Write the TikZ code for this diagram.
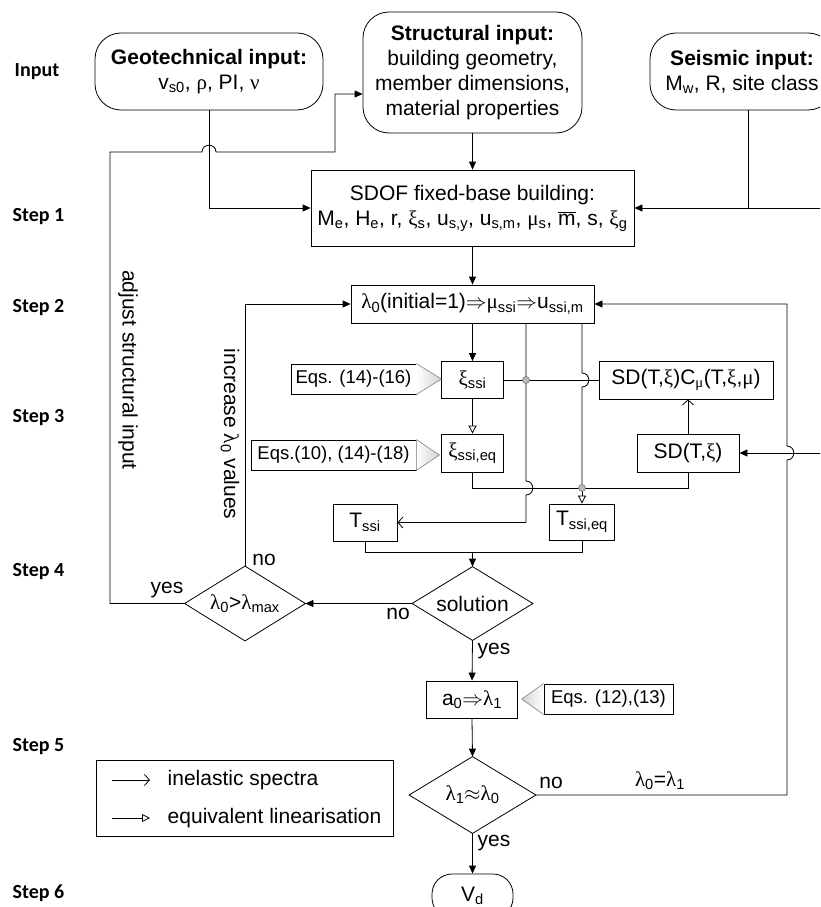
\documentclass[tikz,border=0pt]{standalone}
\usepackage{fontspec}
\setmainfont{Liberation Sans}
\newfontfamily\grk{Liberation Serif}
\newfontfamily\stepfont{Carlito}
\usetikzlibrary{arrows.meta,calc}
\newcommand\DrawDia[1]{\draw (#1.north) -- (#1.east) -- (#1.south) -- (#1.west) -- cycle;}
\begin{document}
\begin{tikzpicture}[x=1pt,y=-1pt,line width=0.8pt,
  every node/.style={font=\fontsize{21}{25}\selectfont},
  box/.style={draw, inner sep=0pt, align=center},
  rbox/.style={box, rounded corners=26pt},
  dia/.style={inner sep=0pt, align=center},
  eqbox/.style={box, font=\fontsize{18.5}{22}\selectfont, minimum height=30pt},
  steplab/.style={anchor=west, font=\stepfont\bfseries\fontsize{20}{24}\selectfont},
  lab/.style={inner sep=0pt},
  farrow/.style={-{Triangle[length=8pt,width=7pt]}},
  iarrow/.style={-{Straight Barb[length=5pt,width=11pt,line width=0.8pt]}},
  earrow/.style={-{Triangle[open,length=8pt,width=8pt,fill=white]}},
  tri/.style={draw=gray, line width=0.6pt},
  dotc/.style={fill=gray!55, draw=gray!80!black, line width=0.5pt}
]
\useasboundingbox (0,0) rectangle (820,907);
\clip (0,0) rectangle (820,907);

% step labels
\node[steplab] (sIn) at (11,72) {Input};
\node[steplab] (s1) at (9,217) {Step 1};
\node[steplab] (s2) at (9,308) {Step 2};
\node[steplab] (s3) at (9,418) {Step 3};
\node[steplab] (s4) at (9,572) {Step 4};
\node[steplab] (s5) at (9,747) {Step 5};
\node[steplab] (s6) at (9,893) {Step 6};

% input boxes
\node[rbox, minimum width=228pt, minimum height=77pt] (geo) at (209,71.5)
  {\textbf{Geotechnical input:}\\v\textsubscript{s0}, {\grk ρ}, PI, {\grk ν}};
\node[rbox, minimum width=219pt, minimum height=121pt] (str) at (472.5,72.5)
  {\textbf{Structural input:}\\building geometry,\\member dimensions,\\material properties};
\node[rbox, minimum width=184pt, minimum height=77pt] (seis) at (742,71.5)
  {\textbf{Seismic input:}\\M\textsubscript{w}, R, site class};

% step 1
\node[box, minimum width=323pt, minimum height=76pt] (sdof) at (472.5,208)
  {SDOF fixed-base building:\\M\textsubscript{e}, H\textsubscript{e}, r, {\grk ξ}\textsubscript{s}, u\textsubscript{s,y}, u\textsubscript{s,m}, {\grk μ}\textsubscript{s}, $\overline{\mbox{m}}$, s, {\grk ξ}\textsubscript{g}};

% step 2
\node[box, minimum width=243pt, minimum height=38pt] (lam) at (472.5,304)
  {{\grk λ}\textsubscript{0}(initial=1)$\Rightarrow${\grk μ}\textsubscript{ssi}$\Rightarrow$u\textsubscript{ssi,m}};

% step 3
\node[box, minimum width=62pt, minimum height=37pt] (xi) at (472.5,380) {{\grk ξ}\textsubscript{ssi}};
\node[box, minimum width=62pt, minimum height=38pt] (xieq) at (472.5,453) {{\grk ξ}\textsubscript{ssi,eq}};
\node[box, minimum width=174pt, minimum height=38pt] (sdc) at (686,380)
  {SD(T,{\grk ξ})C\textsubscript{{\grk μ}}(T,{\grk ξ},{\grk μ})};
\node[box, minimum width=102pt, minimum height=38pt] (sd) at (688,453) {SD(T,{\grk ξ})};
\node[box, minimum width=64pt, minimum height=37pt] (tssi) at (365,522.5) {T\textsubscript{ssi}};
\node[box, minimum width=65pt, minimum height=36pt] (tsseq) at (582,522) {T\textsubscript{ssi,eq}};

\node[eqbox, minimum width=125pt] (eqa) at (353.5,379) {Eqs. (14)-(16)};
\node[eqbox, minimum width=165pt] (eqb) at (333.5,455) {Eqs.(10), (14)-(18)};
\shade[left color=white, right color=gray!35] (eqa.north east) -- ($(eqa.east)+(25,0)$) -- (eqa.south east) -- cycle;
\draw[tri] (eqa.north east) -- ($(eqa.east)+(25,0)$) -- (eqa.south east);
\shade[left color=white, right color=gray!35] (eqb.north east) -- ($(eqb.east)+(23,0)$) -- (eqb.south east) -- cycle;
\draw[tri] (eqb.north east) -- ($(eqb.east)+(23,0)$) -- (eqb.south east);

% step 4
\node[dia, minimum width=120pt, minimum height=73pt] (sol) at (472.5,603.5) {solution};
\DrawDia{sol}
\node[dia, minimum width=120pt, minimum height=74pt] (lmax) at (245,603.5)
  {{\grk λ}\textsubscript{0}>{\grk λ}\textsubscript{max}};
\DrawDia{lmax}

% step 5
\node[box, minimum width=91pt, minimum height=37pt] (a0) at (472,699.5)
  {a\textsubscript{0}$\Rightarrow${\grk λ}\textsubscript{1}};
\node[eqbox, minimum width=129pt] (eqc) at (608.5,699) {Eqs. (12),(13)};
\shade[left color=gray!35, right color=white] (eqc.north west) -- ($(eqc.west)+(-22,0)$) -- (eqc.south west) -- cycle;
\draw[tri] (eqc.north west) -- ($(eqc.west)+(-22,0)$) -- (eqc.south west);
\node[dia, minimum width=126pt, minimum height=76pt] (conv) at (472.5,795)
  {{\grk λ}\textsubscript{1}$\approx${\grk λ}\textsubscript{0}};
\DrawDia{conv}

% step 6
\node[box, rounded corners=20pt, minimum width=81pt, minimum height=44pt] (vd) at (472.5,896) {V\textsubscript{d}};

% legend
\node[box, minimum width=297pt, minimum height=76pt] (leg) at (244.5,798) {};
\coordinate (l1a) at (112,780);
\coordinate (l1b) at (150,780);
\coordinate (l2a) at (112,818);
\coordinate (l2b) at (150,818);
\draw[iarrow] (l1a) -- (l1b);
\draw[earrow] (l2a) -- (l2b);
\node[anchor=west] (lt1) at (164,780) {inelastic spectra};
\node[anchor=west] (lt2) at (164,818) {equivalent linearisation};

% rotated labels
\node[rotate=-90] (adj) at (128,370) {adjust structural input};
\node[rotate=-90] (inc) at (230,434) {increase {\grk λ}\textsubscript{0} values};

% coordinates
\coordinate (sj) at ($(seis.south)+(6,0)$);
\coordinate (offr) at (845,208);
\coordinate (dot1) at (526,380);
\coordinate (dot2) at (582,488);
\coordinate (mj) at (472.5,552);

% connectors
\draw[farrow] (geo.south) |- (sdof.west);
\draw[farrow] (str.south) -- (sdof.north);
\draw[farrow] (sj) |- (sdof.east);
\draw[farrow] (sdof.east -| sj) -- (offr) |- (sd.east);
\draw[farrow] (sdof.south) -- (lam.north);
\draw[farrow] (lam.south) -- (xi.north);
\draw[earrow] (xi.south) -- (xieq.north);
\draw (xi.east) -- (sdc.west);
\draw[iarrow] (lam.south -| dot1) -- (526,481) .. controls (535,481) and (535,495) .. (526,495) -- (526,522.5) -- (tssi.east);
\draw (lam.south -| dot2) -- (582,373) .. controls (591,373) and (591,387) .. (582,387) -- (dot2);
\draw[earrow] (dot2) -- (tsseq.north);
\draw (xieq.south) -- ++(0,16) -| (sd.south);
\draw[iarrow] (sd.north) -- (sd.north |- sdc.south);
\draw (tssi.south) |- (mj);
\draw (tsseq.south) |- (mj);
\draw[farrow] (mj) -- (sol.north);
\draw[farrow] (sol.west) -- (lmax.east);
\draw[farrow] (lmax.north) |- (lam.west);
\draw[farrow] (lmax.west) -| (110,152) -- (202,152) .. controls (202,143) and (216,143) .. (216,152) -- (335,152) |- ($(str.west)+(0,21.5)$);
\draw[farrow] (sol.south) -- (a0.north);
\draw[farrow] (a0.south) -- (conv.north);
\draw[farrow] (conv.east) -- (787,795) -- (787,460) .. controls (796,460) and (796,446) .. (787,446) |- (lam.east);
\draw[farrow] (conv.south) -- (vd.north);

\fill[dotc] (dot1) circle (3.5pt);
\fill[dotc] (dot2) circle (3.5pt);

% edge labels
\node[lab] (n1) at (264,560) {no};
\node[lab] (y1) at (167,590) {yes};
\node[lab] (n2) at (398,614) {no};
\node[lab] (y2) at (494,651) {yes};
\node[lab] (n3) at (551,783) {no};
\node[lab] (eqlab) at (660,781) {{\grk λ}\textsubscript{0}={\grk λ}\textsubscript{1}};
\node[lab] (y3) at (494,843) {yes};
\end{tikzpicture}
\end{document}
